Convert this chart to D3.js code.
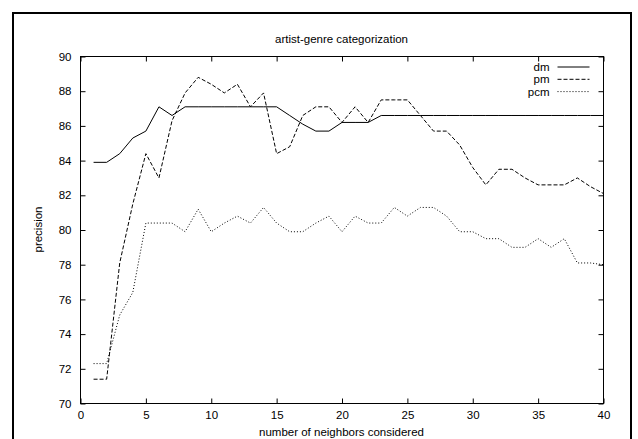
<!DOCTYPE html>
<html>
<head>
<meta charset="utf-8">
<script src="https://cdn.jsdelivr.net/npm/d3@7"></script>
<style>
  html, body { margin: 0; padding: 0; background: #fff; }
  svg text { font-family: "Liberation Sans", Arial, Helvetica, sans-serif; fill: #000; }
</style>
</head>
<body>
<div id="chart"></div>
<script>
// artist-genre categorization, precision vs number of neighbors

const neighbors = [1, 2, 3, 4, 5, 6, 7, 8, 9, 10, 11, 12, 13, 14, 15, 16, 17, 18, 19, 20,
  21, 22, 23, 24, 25, 26, 27, 28, 29, 30, 31, 32, 33, 34, 35, 36, 37, 38, 39, 40];

const dm = [83.9, 83.9, 84.4, 85.3, 85.7, 87.1, 86.6, 87.1, 87.1, 87.1,
  87.1, 87.1, 87.1, 87.1, 87.1, 86.6, 86.1, 85.7, 85.7, 86.2,
  86.2, 86.2, 86.6, 86.6, 86.6, 86.6, 86.6, 86.6, 86.6, 86.6,
  86.6, 86.6, 86.6, 86.6, 86.6, 86.6, 86.6, 86.6, 86.6, 86.6];

const pm = [71.4, 71.4, 78.1, 81.5, 84.4, 83.0, 86.3, 87.9, 88.8, 88.4,
  87.9, 88.4, 87.1, 87.9, 84.4, 84.8, 86.6, 87.1, 87.1, 86.2,
  87.1, 86.2, 87.5, 87.5, 87.5, 86.6, 85.7, 85.7, 84.9, 83.6,
  82.6, 83.5, 83.5, 83.0, 82.6, 82.6, 82.6, 83.0, 82.5, 82.1];

const pcm = [72.3, 72.3, 75.1, 76.4, 80.4, 80.4, 80.4, 79.9, 81.2, 79.9,
  80.4, 80.8, 80.4, 81.3, 80.4, 79.9, 79.9, 80.4, 80.8, 79.9,
  80.8, 80.4, 80.4, 81.3, 80.8, 81.3, 81.3, 80.8, 79.9, 79.9,
  79.5, 79.5, 79.0, 79.0, 79.5, 79.0, 79.5, 78.1, 78.1, 78.0];

const xTicks = [0, 5, 10, 15, 20, 25, 30, 35, 40];
const yTicks = [70, 72, 74, 76, 78, 80, 82, 84, 86, 88, 90];

const seriesList = [
  {name: 'dm', values: dm, dash: null},
  {name: 'pm', values: pm, dash: '4,2'},
  {name: 'pcm', values: pcm, dash: '1,2'}
];

const W = 638, H = 439;
const margin = {top: 56, right: 35, bottom: 36, left: 80};
const width = W - margin.left - margin.right;   // 523
const height = H - margin.top - margin.bottom;  // 347

const root = d3.select('#chart')
  .append('svg')
  .attr('width', W)
  .attr('height', H);

// outer frame
root.append('rect')
  .attr('x', 13)
  .attr('y', 13)
  .attr('width', 618)
  .attr('height', 440)
  .attr('fill', 'none')
  .attr('stroke', '#000')
  .attr('stroke-width', 2);

const svg = root.append('g')
  .attr('transform', `translate(${margin.left + 0.5},${margin.top + 0.5})`);

const x = d3.scaleLinear().domain([0, 40]).range([0, width]);
const y = d3.scaleLinear().domain([70, 90]).range([height, 0]);

// Axes (ticks point inward, mirrored on top and right)
svg.append('g')
  .attr('transform', `translate(0,${height})`)
  .call(d3.axisBottom(x).tickValues(xTicks).tickSize(-5).tickSizeOuter(0).tickPadding(7));

svg.append('g')
  .call(d3.axisLeft(y).tickValues(yTicks).tickSize(-5).tickSizeOuter(0).tickPadding(9));

svg.append('g')
  .call(d3.axisTop(x).tickValues(xTicks).tickSize(-5).tickSizeOuter(0).tickFormat(''));

svg.append('g')
  .attr('transform', `translate(${width},0)`)
  .call(d3.axisRight(y).tickValues(yTicks).tickSize(-5).tickSizeOuter(0).tickFormat(''));

svg.selectAll('.domain').remove();
svg.selectAll('.tick line').attr('stroke', '#000');
svg.selectAll('.tick text')
  .style('font-size', '11.5px')
  .style('font-family', '"Liberation Sans", Arial, sans-serif')
  .attr('fill', '#000');

svg.append('rect')
  .attr('width', width)
  .attr('height', height)
  .attr('fill', 'none')
  .attr('stroke', '#000')
  .attr('stroke-width', 1);

// Lines
const line = d3.line()
  .x((d, i) => x(neighbors[i]))
  .y(d => y(d));

seriesList.forEach(s => {
  svg.append('path')
    .datum(s.values)
    .attr('fill', 'none')
    .attr('stroke', '#000')
    .attr('stroke-width', 1)
    .attr('stroke-dasharray', s.dash)
    .attr('d', line);
});

// Legend
const legend = svg.append('g')
  .attr('transform', `translate(${width - 54},10.5)`);

seriesList.forEach((s, i) => {
  const row = legend.append('g').attr('transform', `translate(0,${i * 12.3})`);
  row.append('text')
    .attr('x', 0)
    .attr('dy', '0.35em')
    .attr('text-anchor', 'end')
    .style('font-size', '11.5px')
    .text(s.name);
  row.append('line')
    .attr('x1', 8)
    .attr('x2', 40)
    .attr('stroke', '#000')
    .attr('stroke-width', 1)
    .attr('stroke-dasharray', s.dash);
});

// Titles
root.append('text')
  .attr('x', margin.left + width / 2)
  .attr('y', 43)
  .attr('text-anchor', 'middle')
  .style('font-size', '11.5px')
  .text('artist-genre categorization');

root.append('text')
  .attr('x', margin.left + width / 2)
  .attr('y', 436)
  .attr('text-anchor', 'middle')
  .style('font-size', '11.5px')
  .text('number of neighbors considered');

root.append('text')
  .attr('transform', `translate(42,${margin.top + height / 2}) rotate(-90)`)
  .attr('text-anchor', 'middle')
  .style('font-size', '11.5px')
  .text('precision');
</script>
</body>
</html>
